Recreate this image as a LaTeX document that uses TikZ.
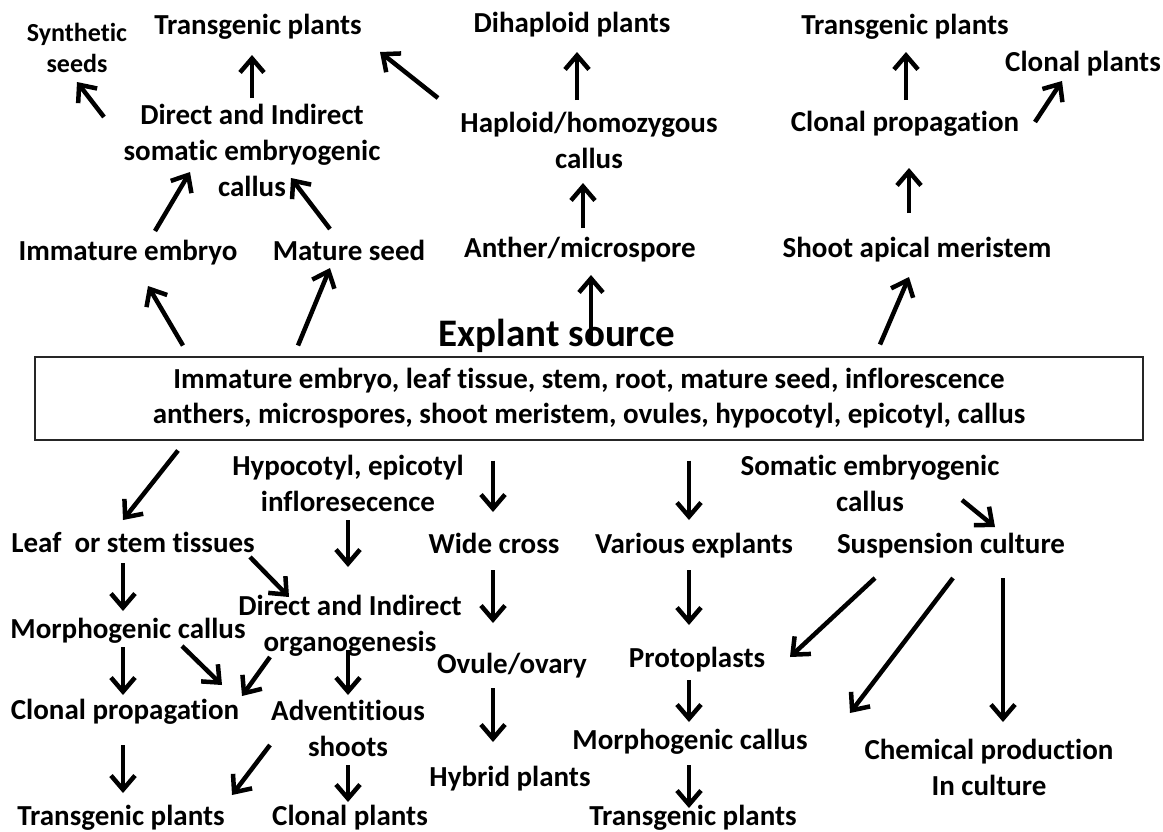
\documentclass[tikz,border=0pt]{standalone}
\usepackage{fontspec}
\setmainfont[Ligatures={NoCommon}]{Carlito}
\usetikzlibrary{arrows.meta}
\newcommand\conn[6]{\draw[arrow] ([shift={(#2,#3)}]#1.center) -- ([shift={(#5,#6)}]#4.center);}
\begin{document}
\begin{tikzpicture}[x=1pt,y=-1pt,
 mlab/.style={font=\bfseries\fontsize{29}{36}\selectfont, align=center, inner sep=0pt},
 lab/.style={mlab, text height=20pt, text depth=6pt},
 sml/.style={font=\bfseries\fontsize{26}{31}\selectfont, align=center, inner sep=0pt},
 big/.style={font=\bfseries\fontsize{39}{44}\selectfont, align=center, inner sep=0pt, text height=27pt, text depth=9pt},
 boxst/.style={draw=black!85, line width=1.5pt, minimum width=1108pt, minimum height=83pt, font=\bfseries\fontsize{29}{35}\selectfont, align=center, inner sep=0pt},
 arrow/.style={line width=4.5pt, -{Straight Barb[length=14pt,width=24pt]}}]
\useasboundingbox (0,0) rectangle (1163,831);
% top
\node[sml] (synth) at (77,48) {Synthetic\\seeds};
\node[lab] (tp1) at (258,27) {Transgenic plants};
\node[mlab] (dis) at (252,150) {Direct and Indirect\\somatic embryogenic\\callus};
\node[lab] (imm) at (128,253) {Immature embryo};
\node[lab] (mat) at (349,253) {Mature seed};
\node[mlab] (haploid) at (589,140) {Haploid/homozygous\\callus};
\node[lab] (dihap) at (572,25) {Dihaploid plants};
\node[lab] (anther) at (580,250) {Anther/microspore};
\node[lab] (tp2) at (905,27) {Transgenic plants};
\node[lab] (clonalp) at (1083,64) {Clonal plants};
\node[lab] (clprop) at (905,124) {Clonal propagation};
\node[lab] (sam) at (917,250) {Shoot apical meristem};
\node[big] (explant) at (557,337) {Explant source};
\node[boxst] (box) at (589,398.5) {Immature embryo, leaf tissue, stem, root, mature seed, inflorescence\\anthers, microspores, shoot meristem, ovules, hypocotyl, epicotyl, callus};
% bottom
\node[lab] (leaf) at (133,545) {Leaf~~or stem tissues};
\node[mlab] (hyp) at (348,483) {Hypocotyl, epicotyl\\infloresecence};
\node[lab] (wide) at (494,546) {Wide cross};
\node[lab] (various) at (694,546) {Various explants};
\node[mlab] (somatic) at (870,483) {Somatic embryogenic\\callus};
\node[lab] (susp) at (951,546) {Suspension culture};
\node[lab] (morph1) at (128,631) {Morphogenic callus};
\node[mlab] (dio) at (350,626) {Direct and Indirect\\organogenesis};
\node[lab] (clprop2) at (125,712) {Clonal propagation};
\node[mlab] (advent) at (348,728) {Adventitious\\shoots};
\node[lab] (ovule) at (512,666) {Ovule/ovary};
\node[lab] (proto) at (697,660) {Protoplasts};
\node[lab] (morph2) at (690,742) {Morphogenic callus};
\node[mlab] (chem) at (989,767) {Chemical production\\In culture};
\node[lab] (hybrid) at (510,779) {Hybrid plants};
\node[lab] (tp3) at (121,818) {Transgenic plants};
\node[lab] (clonal3) at (350,818) {Clonal plants};
\node[lab] (tp4) at (693,818) {Transgenic plants};
% top arrows
\conn{dis}{-148}{-33}{synth}{0}{34}
\conn{dis}{0}{-52}{tp1}{-6}{28}
\conn{haploid}{-151}{-42}{tp1}{122}{25}
\conn{imm}{27}{-22}{dis}{-62}{22}
\conn{mat}{-19}{-24}{dis}{39}{28}
\conn{box}{-406}{-53}{imm}{20}{33}
\conn{box}{-291}{-53}{mat}{-19}{15}
\conn{haploid}{-12}{-40}{dihap}{5}{27}
\conn{anther}{3}{-22}{haploid}{-6}{43}
\conn{box}{2}{-56}{anther}{11}{25}
\conn{clprop}{1}{-24}{tp2}{1}{25}
\conn{clprop}{130}{-2}{clonalp}{-21}{17}
\conn{sam}{-8}{-37}{clprop}{4}{44}
\conn{box}{291}{-54}{sam}{-8}{27}
% bottom arrows
\conn{box}{-411}{52}{leaf}{-10}{-25}
\conn{hyp}{0}{37}{dio}{-2}{-59}
\conn{leaf}{117}{12}{dio}{-61}{-29}
\conn{leaf}{-10}{18}{morph1}{-5}{-20}
\conn{morph1}{-5}{16}{clprop2}{-2}{-17}
\conn{morph1}{54}{15}{clprop2}{97}{-27}
\conn{dio}{-80}{31}{clprop2}{117}{-16}
\conn{dio}{-2}{24}{advent}{0}{-33}
\conn{clprop2}{-2}{33}{tp3}{2}{-25}
\conn{advent}{-78}{17}{tp3}{111}{-23}
\conn{advent}{0}{37}{clonal3}{-2}{-16}
\conn{box}{-96}{62}{wide}{-1}{-34}
\conn{wide}{-1}{24}{ovule}{-19}{-43}
\conn{ovule}{-19}{22}{hybrid}{-17}{-37}
\conn{box}{100}{62}{various}{-5}{-26}
\conn{various}{-5}{24}{proto}{-8}{-35}
\conn{proto}{-8}{20}{morph2}{-1}{-20}
\conn{morph2}{-1}{23}{tp4}{-4}{-10}
\conn{somatic}{92}{17}{susp}{44}{-19}
\conn{susp}{-76}{32}{proto}{93}{-3}
\conn{susp}{2}{32}{morph2}{160}{-29}
\conn{susp}{52}{32}{chem}{14}{-45}
\end{tikzpicture}
\end{document}
